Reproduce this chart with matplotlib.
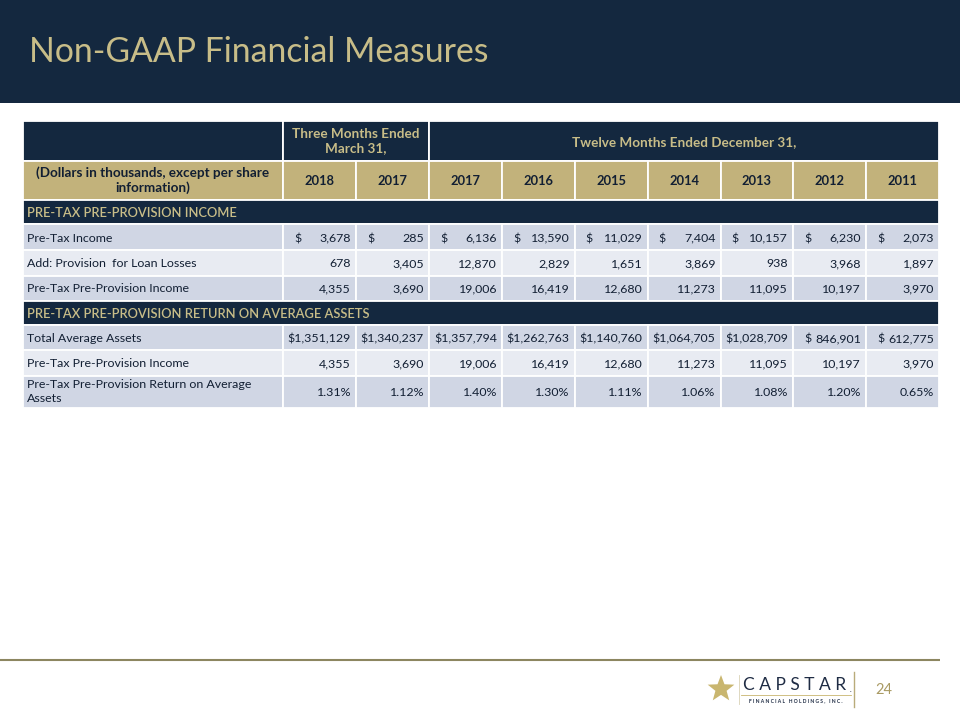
import matplotlib
matplotlib.use("Agg")
import matplotlib.pyplot as plt
from matplotlib.patches import Rectangle, Polygon
import numpy as np

# ---------------- data ----------------
title = "Non-GAAP Financial Measures"
super_q = "Three Months Ended\nMarch 31,"
super_y = "Twelve Months Ended December 31,"
head_label = "(Dollars in thousands, except per share\ninformation)"
years = ["2018", "2017", "2017", "2016", "2015", "2014", "2013", "2012", "2011"]

section1 = "PRE-TAX PRE-PROVISION INCOME"
section2 = "PRE-TAX PRE-PROVISION RETURN ON AVERAGE ASSETS"

pretax_income = [3678, 285, 6136, 13590, 11029, 7404, 10157, 6230, 2073]
provision = [678, 3405, 12870, 2829, 1651, 3869, 938, 3968, 1897]
pre_prov_income = [4355, 3690, 19006, 16419, 12680, 11273, 11095, 10197, 3970]
total_avg_assets = [1351129, 1340237, 1357794, 1262763, 1140760, 1064705, 1028709, 846901, 612775]
return_pct = [1.31, 1.12, 1.40, 1.30, 1.11, 1.06, 1.08, 1.20, 0.65]

page_number = "24"

# ---------------- styling ----------------
NAVY = "#14283f"
GOLD = "#c2b27b"
GOLD_TXT = "#c8bd88"
ROW_DARK = "#d0d6e4"
ROW_LIGHT = "#e8ebf2"
TXT = "#121f33"
FONT = ["Lato", "DejaVu Sans"]
FS = 8.9
FS_HEAD = 9.7

fig = plt.figure(figsize=(9.6, 7.2), dpi=100)
ax = fig.add_axes([0, 0, 1, 1])
ax.set_xlim(0, 960)
ax.set_ylim(720, 0)
ax.axis("off")

# title band
ax.add_patch(Rectangle((0, 0), 960, 103, facecolor=NAVY, edgecolor="none"))
ax.text(29, 52, title, color=GOLD_TXT, fontsize=24.3, family=FONT,
        va="center", ha="left")

# table geometry
col_edges = [22.5, 283, 356, 429, 502, 574.5, 647.5, 720.5, 793, 866, 939]
row_edges = [121, 160.5, 199.5, 224, 250, 275.5, 300.5, 325, 350, 375.5, 408]


def cell(x0, x1, y0, y1, color):
    ax.add_patch(Rectangle((x0, y0), x1 - x0, y1 - y0, facecolor=color,
                           edgecolor="white", linewidth=1.3))


def ymid(r):
    return (row_edges[r] + row_edges[r + 1]) / 2


# row 0: super header
cell(col_edges[0], col_edges[1], row_edges[0], row_edges[1], NAVY)
cell(col_edges[1], col_edges[3], row_edges[0], row_edges[1], NAVY)
cell(col_edges[3], col_edges[10], row_edges[0], row_edges[1], NAVY)
ax.text((col_edges[1] + col_edges[3]) / 2, ymid(0) + 0.5, super_q, color=GOLD_TXT,
        fontsize=FS_HEAD, fontweight="bold", family=FONT, ha="center", va="center",
        linespacing=1.2)
ax.text((col_edges[3] + col_edges[10]) / 2, ymid(0), super_y, color=GOLD_TXT,
        fontsize=FS_HEAD, fontweight="bold", family=FONT, ha="center",
        va="center_baseline")

# row 1: gold header
for c in range(10):
    cell(col_edges[c], col_edges[c + 1], row_edges[1], row_edges[2], GOLD)
ax.text((col_edges[0] + col_edges[1]) / 2, ymid(1), head_label, color=TXT,
        fontsize=FS_HEAD, fontweight="bold", family=FONT, ha="center", va="center",
        linespacing=1.2)
for c, yr in enumerate(years):
    ax.text((col_edges[c + 1] + col_edges[c + 2]) / 2, ymid(1), yr, color=TXT,
            fontsize=9.3, fontweight="bold", family=FONT, ha="center",
            va="center_baseline")


def section(r, label):
    cell(col_edges[0], col_edges[10], row_edges[r], row_edges[r + 1], NAVY)
    ax.text(col_edges[0] + 4.5, ymid(r), label, color=GOLD_TXT, fontsize=FS + 0.4,
            fontweight="semibold", family=FONT, ha="left", va="center_baseline")


def data_row(r, label, values, fmt, color, dollar=False):
    for c in range(10):
        cell(col_edges[c], col_edges[c + 1], row_edges[r], row_edges[r + 1], color)
    ax.text(col_edges[0] + 4.5, ymid(r), label, color=TXT, fontsize=FS,
            family=FONT, ha="left",
            va="center" if "\n" in label else "center_baseline",
            linespacing=1.3)
    for c, v in enumerate(values):
        x0, x1 = col_edges[c + 1], col_edges[c + 2]
        s = fmt(v)
        if dollar and len(s) > 7:
            s = "$" + s
        elif dollar:
            ax.text(x0 + 11, ymid(r) + 0.6, "$", color=TXT, fontsize=FS,
                    family=FONT, ha="left", va="center_baseline")
        ax.text(x1 - 5, ymid(r), s, color=TXT, fontsize=FS, family=FONT,
                ha="right", va="center_baseline")


num = lambda v: f"{v:,}"
pct = lambda v: f"{v:.2f}%"

section(2, section1)
data_row(3, "Pre-Tax Income", pretax_income, num, ROW_DARK, dollar=True)
data_row(4, "Add: Provision  for Loan Losses", provision, num, ROW_LIGHT)
data_row(5, "Pre-Tax Pre-Provision Income", pre_prov_income, num, ROW_DARK)
section(6, section2)
data_row(7, "Total Average Assets", total_avg_assets, num, ROW_DARK, dollar=True)
data_row(8, "Pre-Tax Pre-Provision Income", pre_prov_income, num, ROW_LIGHT)
data_row(9, "Pre-Tax Pre-Provision Return on Average\nAssets", return_pct, pct,
         ROW_DARK)

# footer line
ax.plot([0, 940], [660, 660], color="#8c8660", linewidth=1.5,
        solid_capstyle="butt")

# logo
cx, cy, R = 721, 689, 14
ang = np.pi / 2 + np.arange(10) * np.pi / 5
rad = np.where(np.arange(10) % 2 == 0, R, R * 0.42)
ax.add_patch(Polygon(np.c_[cx + rad * np.cos(ang), cy - rad * np.sin(ang)],
                     closed=True, facecolor="#c9b66f", edgecolor="none"))
ax.plot([739, 739], [675, 704], color="#d9d2b5", linewidth=0.6)
ax.text(795, 685, "C A P S T A R", color="#1f2c44", fontsize=12.5, family=FONT,
        ha="center", va="center")
ax.text(850, 689, ".", color="#1f2c44", fontsize=5, family=FONT,
        ha="left", va="center")
ax.plot([741, 851], [695, 695], color="#c9b66f", linewidth=0.6)
ax.text(796, 701, "F I N A N C I A L   H O L D I N G S ,   I N C .", color="#1f2c44",
        fontsize=3.6, fontweight="bold", family=FONT, ha="center", va="center")
ax.plot([854, 854], [672, 707], color="#b9ab7a", linewidth=1.0)
ax.text(884, 690, page_number, color="#a99a63", fontsize=10.5, family=FONT,
        ha="center", va="center")

fig.savefig("out.png", dpi=100, facecolor="white")
